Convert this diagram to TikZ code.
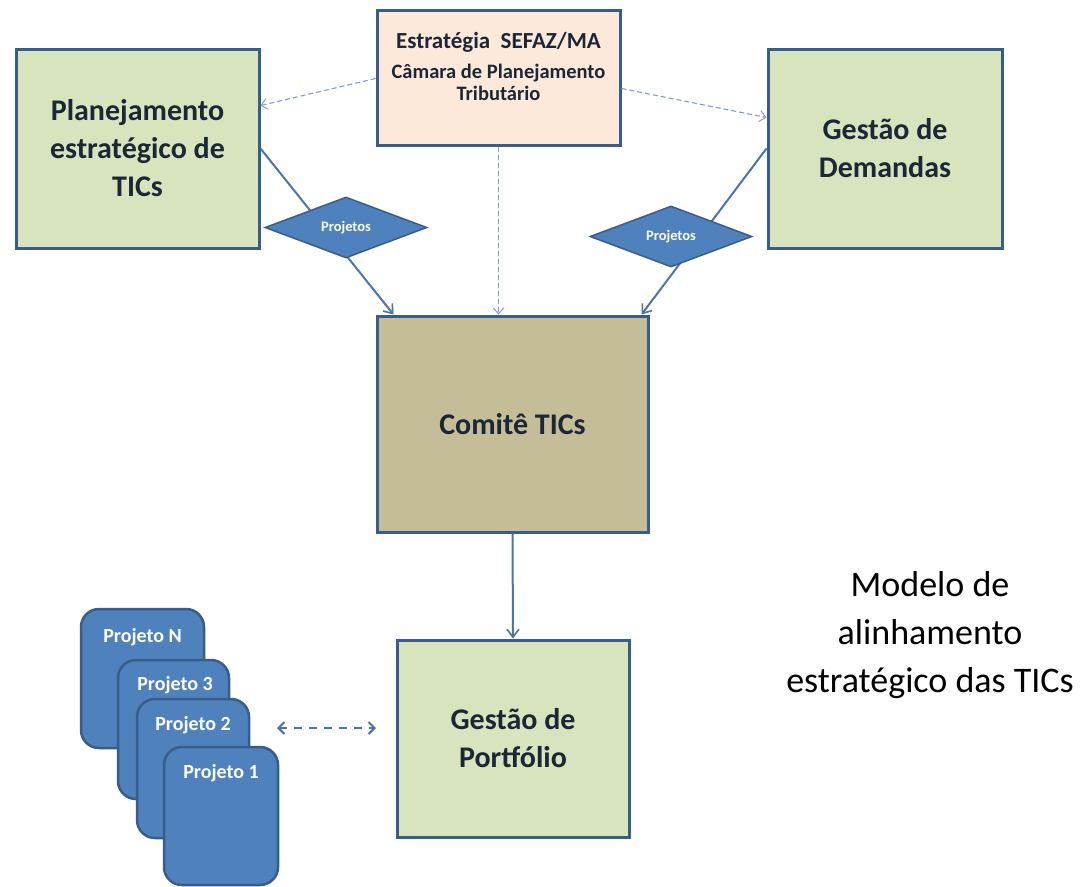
\documentclass[tikz,border=0pt]{standalone}
\usepackage{fontspec}
\setmainfont{Carlito}
\usetikzlibrary{shapes.geometric,arrows.meta,calc}
\definecolor{boxgreen}{HTML}{D7E4BD}
\definecolor{boxpeach}{HTML}{FDE9D9}
\definecolor{boxtan}{HTML}{C4BD97}
\definecolor{bordblue}{HTML}{385D8A}
\definecolor{fillblue}{HTML}{4F81BD}
\definecolor{linkblue}{HTML}{4A74AD}
\definecolor{dashblue}{HTML}{7F9FCF}
\definecolor{txtnavy}{HTML}{1B2636}
\tikzset{
  bigbox/.style={draw=bordblue, line width=3pt, rectangle, inner sep=0pt, font=\bfseries\fontsize{30}{38}\selectfont, text=txtnavy, align=center},
  greenbox/.style={bigbox, fill=boxgreen},
  diam/.style={diamond, draw=bordblue, line width=1.5pt, fill=fillblue, aspect=2.6, minimum width=162pt, minimum height=61pt, inner sep=0pt, text=white, font=\bfseries\fontsize{14.5}{16}\selectfont},
  card/.style={rectangle, rounded corners=18pt, draw=bordblue, line width=2.5pt, fill=fillblue, inner sep=0pt},
  cardtxt/.style={text=white, font=\bfseries\fontsize{20}{22}\selectfont, inner sep=0pt},
  solidlink/.style={draw=linkblue, line width=2pt, -{Straight Barb[length=8pt,width=12pt,line width=1.6pt]}},
  dashlink/.style={draw=dashblue, line width=1.1pt, dash pattern=on 5pt off 3pt, -{Straight Barb[length=6pt,width=11pt,line width=1pt]}},
  bidash/.style={draw=linkblue, line width=2.2pt, dash pattern=on 8pt off 7pt, {Straight Barb[length=6pt,width=12pt,line width=2pt]}-{Straight Barb[length=6pt,width=12pt,line width=2pt]}}
}
\begin{document}
\begin{tikzpicture}[x=1pt,y=-1pt]
\useasboundingbox[fill=white] (0,0) rectangle (1086,886);

% boxes
\node[greenbox, minimum width=243pt, minimum height=199pt] (left) at (137.5,148.5) {Planejamento\\estratégico de\\TICs};
\node[greenbox, minimum width=234pt, minimum height=199pt] (right) at (885,148.5) {Gestão de\\Demandas};
\node[bigbox, fill=boxpeach, minimum width=243pt, minimum height=135pt] (top) at (498.5,77.5) {};
\node[text=txtnavy, align=center, inner sep=0pt, font=\bfseries\fontsize{20.5}{22}\selectfont] (toptxt) at (498.5,67) {{\fontsize{23}{26}\selectfont Estratégia\ \ SEFAZ/MA}\\[8pt]Câmara de Planejamento\\Tributário};
\node[bigbox, fill=boxtan, minimum width=271pt, minimum height=216pt] (comite) at (512.5,424) {Comitê TICs};
\node[greenbox, minimum width=232pt, minimum height=197pt] (portfolio) at (513,738.5) {Gestão de\\Portfólio};

% connectors
\draw[dashlink] ($(top.north west)+(0,70)$) -- ($(left.north east)+(0,58)$);
\draw[dashlink] ($(top.north east)+(0,80)$) -- ($(right.north west)+(0,70)$);
\draw[dashlink] (top.south) -- (top.south |- comite.north);
\draw[solidlink] (left.east) -- ($(comite.north west)+(18,0)$);
\draw[solidlink] (right.west) -- ($(comite.north east)+(-8,0)$);
\draw[solidlink] (comite.south) -- (portfolio.north);

% diamonds on the lines
\node[diam] (dleft) at (346,227.5) {Projetos};
\node[diam] (dright) at (671,236.5) {Projetos};

% project cards
\node[card, minimum width=123pt, minimum height=139pt] (pN) at (142.5,678.5) {};
\node[cardtxt] (pNt) at (142.5,637) {Projeto N};
\node[card, minimum width=111pt, minimum height=139pt] (p3) at (173.5,729.5) {};
\node[cardtxt] (p3t) at (175,685) {Projeto 3};
\node[card, minimum width=112pt, minimum height=139pt] (p2) at (193,768.5) {};
\node[cardtxt] (p2t) at (193,725) {Projeto 2};
\node[card, minimum width=114pt, minimum height=138pt] (p1) at (221,816) {};
\node[cardtxt] (p1t) at (221,773) {Projeto 1};

\coordinate (dl) at (277,728);
\coordinate (dr) at (376,728);
\draw[bidash] (dl) -- (dr);

% title
\node[align=center, text=black, font=\fontsize{36}{48}\selectfont, inner sep=0pt] (title) at (930,635) {Modelo de\\alinhamento\\estratégico das TICs};
\end{tikzpicture}
\end{document}
